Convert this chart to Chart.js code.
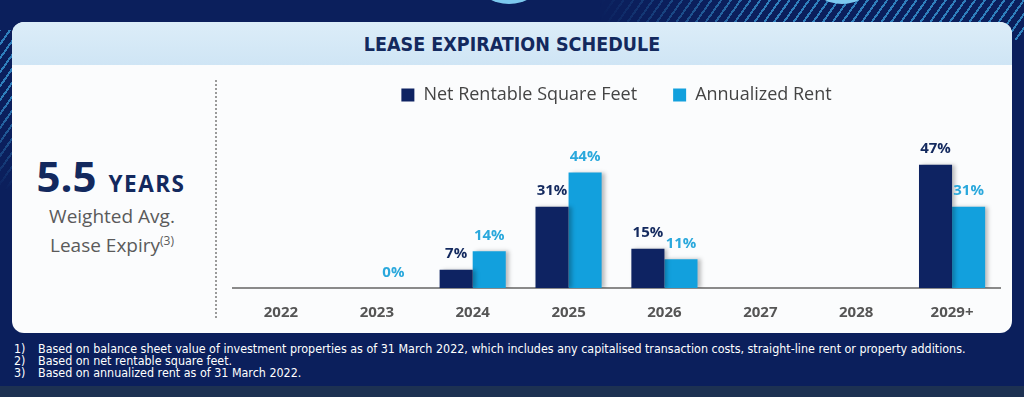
<!DOCTYPE html>
<html>
<head>
<meta charset="utf-8">
<script src="https://cdn.jsdelivr.net/npm/chart.js@4.4.0/dist/chart.umd.min.js"></script>
<style>
  html, body { margin: 0; padding: 0; }
  body { width: 1024px; height: 397px; background: #0b1f5c; position: relative; overflow: hidden; font-family: 'Open Sans', sans-serif; }
  .stripes-tr { position: absolute; left: 600px; top: 0; width: 424px; height: 40px;
    background: repeating-linear-gradient(-55deg, transparent 0 6px, rgba(60,160,220,0.75) 6px 8px);
    -webkit-mask-image: linear-gradient(90deg, transparent 0%, #000 40%); }
  .stripes-l { position: absolute; left: 0; top: 30px; width: 14px; height: 160px;
    background: repeating-linear-gradient(-55deg, transparent 0 6px, rgba(60,160,220,0.75) 6px 8px);
    -webkit-mask-image: linear-gradient(180deg, #000 40%, transparent 100%); }
  .circle { position: absolute; border-radius: 50%; background: #7cc8ee; }
  .card { position: absolute; left: 12px; top: 22px; width: 1000px; height: 311px; background: #fbfcfd; border-radius: 12px; overflow: hidden; }
  .header { position: absolute; left: 0; top: 0; width: 100%; height: 43px; background: linear-gradient(180deg, #dcedf8, #cfe5f5); }
  .header span { position: absolute; left: 0; right: 0; top: 11px; text-align: center; font-family: 'Liberation Sans Narrow', 'DejaVu Sans Condensed', sans-serif; font-weight: bold; font-size: 19.5px; color: #13295e; }
  .big { position: absolute; left: 0; width: 222px; text-align: center; color: #13295e; font-weight: bold; }
  .sub { position: absolute; left: 0; width: 224px; text-align: center; color: #5a5a5a; font-size: 19px; }
  .divider { position: absolute; left: 215px; top: 80px; height: 238px; border-left: 2px dotted #9a9a9a; }
  #wrap { position: absolute; left: 228px; top: 50px; width: 786px; height: 280px; }
  .notes { position: absolute; left: 14px; top: 343px; color: #ffffff; font-family: 'Liberation Sans Narrow', 'DejaVu Sans Condensed', sans-serif; font-size: 12.4px; line-height: 12.2px; }
  .notes div span { display: inline-block; width: 24px; }
  .bottom { position: absolute; left: 0; top: 386px; width: 1024px; height: 11px; background: #1d3152; }
</style>
</head>
<body>
<div class="stripes-tr"></div>
<div class="stripes-l"></div>
<div class="circle" style="left:478px; top:-40px; width:62px; height:44px;"></div>
<div class="circle" style="left:812px; top:-40px; width:60px; height:44px;"></div>
<div class="card">
  <div class="header"><span>LEASE EXPIRATION SCHEDULE</span></div>
</div>
<div class="big" style="top:147px;"><span style="font-size:42px;">5.5</span><span style="font-size:22.5px; letter-spacing:1.5px; margin-left:12px;">YEARS</span></div>
<div class="sub" style="top:203px;">Weighted Avg.</div>
<div class="sub" style="top:232px;">Lease Expiry<sup style="font-size:12px;">(3)</sup></div>
<div class="divider"></div>
<div id="wrap"><canvas id="chart"></canvas></div>
<div class="notes">
  <div><span>1)</span>Based on balance sheet value of investment properties as of 31 March 2022, which includes any capitalised transaction costs, straight-line rent or property additions.</div>
  <div><span>2)</span>Based on net rentable square feet.</div>
  <div><span>3)</span>Based on annualized rent as of 31 March 2022.</div>
</div>
<div class="bottom"></div>
<script>
const years = ['2022', '2023', '2024', '2025', '2026', '2027', '2028', '2029+'];
const netRentableSqFt = [null, null, 7, 31, 15, null, null, 47];
const annualizedRent = [null, 0, 14, 44, 11, null, null, 31];

const navy = '#0e2362';
const sky = '#12a0dd';

// draws the % above each bar
const valueLabels = {
  id: 'valueLabels',
  afterDatasetsDraw(chart) {
    const ctx = chart.ctx;
    ctx.save();
    ctx.font = 'bold 15px "Open Sans"';
    ctx.textAlign = 'center';
    ctx.textBaseline = 'bottom';
    chart.data.datasets.forEach((ds, i) => {
      const meta = chart.getDatasetMeta(i);
      meta.data.forEach((bar, j) => {
        const v = ds.data[j];
        if (v === null) return;
        ctx.fillStyle = ds.labelColor;
        ctx.fillText(v + '%', bar.x, bar.y - 8);
      });
    });
    ctx.restore();
  }
};

const barShadow = {
  id: 'barShadow',
  beforeDatasetsDraw(chart) {
    const ctx = chart.ctx;
    ctx.save();
    ctx.shadowColor = 'rgba(0,0,0,0.25)';
    ctx.shadowBlur = 4;
    ctx.shadowOffsetX = 3;
  },
  afterDatasetsDraw(chart) {
    chart.ctx.restore();
  }
};

new Chart(document.getElementById('chart'), {
  type: 'bar',
  data: {
    labels: years,
    datasets: [
      { label: 'Net Rentable Square Feet', data: netRentableSqFt, backgroundColor: navy, labelColor: '#13295e' },
      { label: 'Annualized Rent', data: annualizedRent, backgroundColor: sky, labelColor: '#2aa8dc' }
    ]
  },
  options: {
    responsive: true,
    maintainAspectRatio: false,
    animation: false,
    layout: { padding: { left: 5, right: 14, top: 0 } },
    datasets: { bar: { categoryPercentage: 0.69, barPercentage: 1 } },
    plugins: {
      tooltip: { enabled: false },
      legend: {
        position: 'top',
        labels: { boxWidth: 13, boxHeight: 13, color: '#444', font: { family: 'Open Sans', size: 18 }, padding: 36 }
      }
    },
    scales: {
      y: { display: false, min: 0, max: 66.3 },
      x: {
        grid: { display: false },
        border: { color: '#8a8a8a', width: 2 },
        ticks: { color: '#555', font: { family: 'Open Sans', size: 15, weight: 'bold' }, padding: 8 }
      }
    }
  },
  plugins: [barShadow, valueLabels]
});
</script>
</body>
</html>
